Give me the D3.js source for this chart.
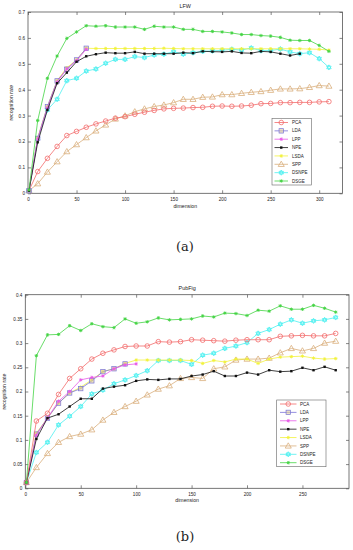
<!DOCTYPE html>
<html><head><meta charset="utf-8">
<script src="https://cdnjs.cloudflare.com/ajax/libs/d3/7.8.5/d3.min.js"></script>
<style>html,body{margin:0;padding:0;background:#fff;}svg{display:block;}</style>
</head><body>
<svg id="c" width="353" height="550"></svg>
<script>
// ---------- DATA ----------
const seriesNames = ["PCA","LDA","LPP","NPE","LSDA","SPP","DSNPE","DSGE"];

const lfwDims = [1,10,20,30,40,50,60,70,80,90,100,110,120,130,140,150,160,170,180,190,200,210,220,230,240,250,260,270,280,290,300,310];
const lfwPCA  = [0.01,0.084,0.135,0.181,0.223,0.239,0.255,0.268,0.279,0.29,0.296,0.305,0.313,0.32,0.326,0.328,0.329,0.331,0.332,0.336,0.337,0.336,0.337,0.34,0.346,0.347,0.35,0.35,0.351,0.351,0.353,0.354];
const lfwLDA  = [0.01,0.212,0.335,0.434,0.479,0.515,0.56];
const lfwLPP  = [0.01,0.21,0.33,0.43,0.48,0.512,0.556];
const lfwNPE  = [0.01,0.197,0.322,0.425,0.466,0.508,0.529,0.537,0.543,0.541,0.541,0.546,0.539,0.539,0.539,0.539,0.543,0.541,0.548,0.547,0.546,0.548,0.542,0.541,0.548,0.546,0.539,0.532,0.539];
const lfwLSDA = [0.01,0.215,0.335,0.435,0.485,0.515,0.56,0.559,0.559,0.559,0.559,0.559,0.559,0.559,0.56,0.559,0.558,0.558,0.558,0.558,0.558,0.558,0.558,0.558,0.558,0.558,0.558,0.558,0.558,0.557,0.556,0.553];
const lfwSPP  = [0.01,0.037,0.082,0.122,0.161,0.188,0.215,0.241,0.264,0.287,0.299,0.315,0.326,0.335,0.341,0.35,0.363,0.363,0.371,0.372,0.381,0.381,0.386,0.39,0.393,0.398,0.403,0.403,0.404,0.409,0.416,0.414];
const lfwDSNPE= [0.01,0.212,0.322,0.363,0.435,0.444,0.472,0.48,0.502,0.517,0.517,0.528,0.524,0.534,0.537,0.547,0.537,0.543,0.548,0.55,0.552,0.556,0.553,0.561,0.551,0.551,0.557,0.546,0.539,0.543,0.52,0.486];
const lfwDSGE = [0.013,0.281,0.444,0.53,0.598,0.623,0.647,0.645,0.647,0.642,0.642,0.642,0.633,0.645,0.642,0.642,0.633,0.633,0.625,0.625,0.623,0.619,0.613,0.613,0.609,0.607,0.602,0.591,0.59,0.59,0.571,0.548];

const pubDims = [1,10,20,30,40,50,60,70,80,90,100,110,120,130,140,150,160,170,180,190,200,210,220,230,240,250,260,270,280];
const pubPCA  = [0.012,0.139,0.155,0.194,0.227,0.247,0.267,0.279,0.286,0.293,0.294,0.294,0.303,0.302,0.303,0.307,0.306,0.305,0.304,0.306,0.307,0.307,0.307,0.314,0.315,0.316,0.315,0.315,0.32];
const pubLDA  = [0.012,0.112,0.145,0.176,0.197,0.206,0.222,0.241,0.247,0.257];
const pubLPP  = [0.012,0.11,0.145,0.18,0.2,0.224,0.229,0.232,0.247,0.255,0.257];
const pubNPE  = [0.012,0.102,0.145,0.153,0.169,0.185,0.185,0.206,0.21,0.213,0.222,0.225,0.224,0.226,0.226,0.232,0.235,0.242,0.232,0.232,0.239,0.235,0.244,0.241,0.242,0.249,0.244,0.251,0.244];
const pubLSDA = [0.012,0.114,0.145,0.176,0.197,0.209,0.224,0.241,0.247,0.258,0.265,0.265,0.265,0.265,0.265,0.264,0.258,0.264,0.261,0.267,0.267,0.258,0.267,0.271,0.272,0.273,0.269,0.267,0.268];
const pubSPP  = [0.012,0.043,0.072,0.095,0.107,0.112,0.121,0.141,0.157,0.169,0.18,0.193,0.205,0.212,0.227,0.229,0.227,0.247,0.251,0.265,0.267,0.267,0.269,0.28,0.289,0.284,0.289,0.3,0.304];
const pubDSNPE= [0.012,0.074,0.095,0.131,0.149,0.169,0.195,0.203,0.216,0.224,0.233,0.243,0.264,0.264,0.264,0.256,0.275,0.279,0.289,0.294,0.301,0.32,0.328,0.339,0.348,0.341,0.346,0.348,0.353];
const pubDSGE = [0.012,0.274,0.317,0.318,0.336,0.326,0.34,0.334,0.332,0.35,0.341,0.344,0.352,0.348,0.349,0.35,0.356,0.354,0.362,0.361,0.357,0.368,0.366,0.377,0.37,0.37,0.378,0.372,0.364];

const lfwXTicks = [0,50,100,150,200,250,300];
const lfwYTicks = [0,0.1,0.2,0.3,0.4,0.5,0.6,0.7];
const pubXTicks = [0,50,100,150,200,250];
const pubYTicks = [0,0.05,0.1,0.15,0.2,0.25,0.3,0.35,0.4];

// ---------- STYLE ----------
const colors = {PCA:"#f26b6b",LDA:"#7a74d8",LPP:"#e85ae8",NPE:"#111111",LSDA:"#f2f23c",SPP:"#d9ae7c",DSNPE:"#4df0f0",DSGE:"#44d444"};
const markers = {PCA:"circle",LDA:"square",LPP:"star",NPE:"dot",LSDA:"xstar",SPP:"triangle",DSNPE:"hexagram",DSGE:"star"};
const FONT = "Liberation Sans, Arial, sans-serif";

const svg = d3.select("#c");

function drawMarker(g, type, x, y, col) {
  if (type === "circle") {
    g.append("circle").attr("cx",x).attr("cy",y).attr("r",2.3).attr("fill","none").attr("stroke",col).attr("stroke-width",0.8);
  } else if (type === "square") {
    g.append("rect").attr("x",x-2.2).attr("y",y-2.2).attr("width",4.4).attr("height",4.4).attr("fill","#e0cf9a").attr("fill-opacity",0.6).attr("stroke",col).attr("stroke-width",0.7);
  } else if (type === "triangle") {
    g.append("path").attr("d", d3.symbol().type(d3.symbolTriangle).size(16)()).attr("transform",`translate(${x},${y+0.4})`).attr("fill","none").attr("stroke",col).attr("stroke-width",0.8);
  } else if (type === "dot") {
    g.append("rect").attr("x",x-1.2).attr("y",y-1.2).attr("width",2.4).attr("height",2.4).attr("fill",col);
  } else if (type === "star" || type === "xstar") {
    const r = 1.7;
    const p = d3.path();
    p.moveTo(x-r,y); p.lineTo(x+r,y);
    p.moveTo(x,y-r); p.lineTo(x,y+r);
    const d = r*0.7;
    p.moveTo(x-d,y-d); p.lineTo(x+d,y+d);
    p.moveTo(x-d,y+d); p.lineTo(x+d,y-d);
    g.append("path").attr("d",p.toString()).attr("stroke",col).attr("stroke-width",0.9).attr("fill","none");
  } else if (type === "hexagram") {
    const r = 2.6;
    const tri = a => d3.range(3).map(i => { const t = a + i*2*Math.PI/3; return [x + r*Math.sin(t), y - r*Math.cos(t)]; });
    const line = d3.line();
    g.append("path").attr("d", line(tri(0))+"Z").attr("fill","none").attr("stroke",col).attr("stroke-width",0.8);
    g.append("path").attr("d", line(tri(Math.PI))+"Z").attr("fill","none").attr("stroke",col).attr("stroke-width",0.8);
  }
}

function chart(cfg) {
  const x = d3.scaleLinear().domain(cfg.xDomain).range([cfg.left, cfg.right]);
  const y = d3.scaleLinear().domain(cfg.yDomain).range([cfg.bottom, cfg.top]);
  const g = svg.append("g");

  g.append("rect").attr("x",cfg.left).attr("y",cfg.top).attr("width",cfg.right-cfg.left).attr("height",cfg.bottom-cfg.top)
    .attr("fill","#fff").attr("stroke","#555").attr("stroke-width",0.8);

  const tl = 3;
  const xa = d3.axisBottom(x).tickValues(cfg.xTicks).tickSize(-tl).tickPadding(4).tickFormat(d3.format("d"));
  const ya = d3.axisLeft(y).tickValues(cfg.yTicks).tickSize(-tl).tickPadding(3).tickFormat(d => d === 0 ? "0" : String(+d.toFixed(2)));
  const gx = g.append("g").attr("transform",`translate(0,${cfg.bottom})`).call(xa);
  const gy = g.append("g").attr("transform",`translate(${cfg.left},0)`).call(ya);
  const gxt = g.append("g").attr("transform",`translate(0,${cfg.top})`).call(d3.axisTop(x).tickValues(cfg.xTicks).tickSize(-tl).tickFormat(""));
  const gyr = g.append("g").attr("transform",`translate(${cfg.right},0)`).call(d3.axisRight(y).tickValues(cfg.yTicks).tickSize(-tl).tickFormat(""));
  [gx,gy,gxt,gyr].forEach(a => {
    a.select(".domain").remove();
    a.selectAll(".tick line").attr("stroke","#555").attr("stroke-width",0.7);
    a.selectAll("text").attr("font-family",FONT).attr("font-size",4.6).attr("fill","#222");
  });

  const line = d3.line().x(d => x(d[0])).y(d => y(d[1]));
  cfg.series.forEach(s => {
    const pts = s.values.map((v,i) => [cfg.dims[i], v]);
    const sg = g.append("g");
    sg.append("path").attr("d", line(pts)).attr("fill","none").attr("stroke",colors[s.name]).attr("stroke-width",0.8);
    pts.forEach(p => drawMarker(sg, markers[s.name], x(p[0]), y(p[1]), colors[s.name]));
  });

  g.append("text").attr("x",(cfg.left+cfg.right)/2).attr("y",cfg.titleY).attr("text-anchor","middle")
    .attr("font-family",FONT).attr("font-size",5.4).attr("fill","#222").text(cfg.title);
  g.append("text").attr("x",(cfg.left+cfg.right)/2).attr("y",cfg.xlabelY).attr("text-anchor","middle")
    .attr("font-family",FONT).attr("font-size",5.2).attr("fill","#222").text("dimension");
  g.append("text").attr("transform",`translate(${cfg.ylabelX},${(cfg.top+cfg.bottom)/2}) rotate(-90)`).attr("text-anchor","middle")
    .attr("font-family",FONT).attr("font-size",5.2).attr("fill","#222").text("recognition rate");

  const L = cfg.legend;
  const lg = g.append("g");
  lg.append("rect").attr("x",L.x0).attr("y",L.y0).attr("width",L.x1-L.x0).attr("height",L.y1-L.y0)
    .attr("fill","#fff").attr("stroke","#666").attr("stroke-width",0.6);
  const step = (L.y1 - L.y0 - 8) / (seriesNames.length - 1);
  seriesNames.forEach((n,i) => {
    const yy = L.y0 + 4 + i*step;
    lg.append("line").attr("x1",L.lx0).attr("x2",L.lx1).attr("y1",yy).attr("y2",yy).attr("stroke",colors[n]).attr("stroke-width",0.8);
    drawMarker(lg, markers[n], (L.lx0+L.lx1)/2, yy, colors[n]);
    lg.append("text").attr("x",L.tx).attr("y",yy+1.6).attr("font-family",FONT).attr("font-size",4.5).attr("fill","#222").text(n);
  });

  svg.append("text").attr("x",cfg.capX).attr("y",cfg.capY).attr("text-anchor","middle")
    .attr("font-family","DejaVu Serif, Liberation Serif, serif").attr("font-size",13).attr("fill","#222").text(cfg.caption);
}

chart({
  title:"LFW", caption:"(a)", capX:185, capY:251,
  left:28, right:342.5, top:12, bottom:193.3,
  xDomain:[0,324], yDomain:[0,0.7], xTicks:lfwXTicks, yTicks:lfwYTicks,
  titleY:7.5, xlabelY:208, ylabelX:13,
  dims:lfwDims,
  series:[
    {name:"SPP",values:lfwSPP},{name:"PCA",values:lfwPCA},
    {name:"DSNPE",values:lfwDSNPE},{name:"LSDA",values:lfwLSDA},
    {name:"LDA",values:lfwLDA},{name:"LPP",values:lfwLPP},{name:"NPE",values:lfwNPE},
    {name:"DSGE",values:lfwDSGE}
  ],
  legend:{x0:272,x1:311.5,y0:118.5,y1:185,lx0:274.5,lx1:288,tx:292}
});

chart({
  title:"PubFig", caption:"(b)", capX:185, capY:541,
  left:25.3, right:349, top:294.7, bottom:488.3,
  xDomain:[0,292], yDomain:[0,0.4], xTicks:pubXTicks, yTicks:pubYTicks,
  titleY:290, xlabelY:502, ylabelX:6,
  dims:pubDims,
  series:[
    {name:"SPP",values:pubSPP},{name:"DSNPE",values:pubDSNPE},
    {name:"LSDA",values:pubLSDA},{name:"LDA",values:pubLDA},{name:"LPP",values:pubLPP},
    {name:"NPE",values:pubNPE},{name:"PCA",values:pubPCA},
    {name:"DSGE",values:pubDSGE}
  ],
  legend:{x0:276.7,x1:326,y0:400,y1:466.7,lx0:280,lx1:296.5,tx:300}
});
</script>
</body></html>
